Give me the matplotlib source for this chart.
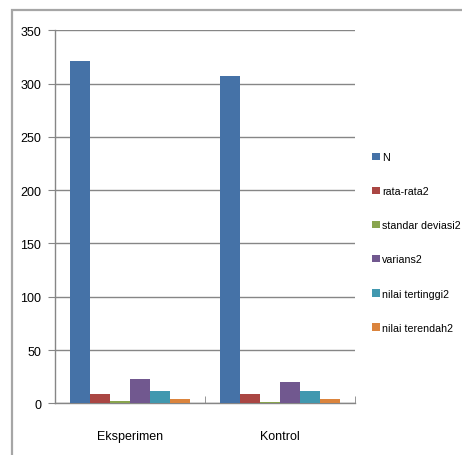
import matplotlib
matplotlib.use("Agg")
import matplotlib.pyplot as plt
from matplotlib.patches import Rectangle, Patch
import numpy as np

plt.rcParams['font.family'] = ['Liberation Sans Narrow', 'Liberation Sans', 'DejaVu Sans']

groups = ["Eksperimen", "Kontrol"]
series = ["N", "rata-rata2", "standar deviasi2", "varians2", "nilai tertinggi2", "nilai terendah2"]
eksperimen = [321, 9, 2, 23, 12, 4]
kontrol = [307, 8.5, 1.5, 20, 12, 4]
colors = ["#4572A7", "#AA4643", "#89A54E", "#71588F", "#4198AF", "#DB843D"]
yticks = [0, 50, 100, 150, 200, 250, 300, 350]

values = np.array([eksperimen, kontrol])

W, H = 462, 456
fig = plt.figure(figsize=(W / 100, H / 100), dpi=100)

# chart area border (left and top edges visible)
fig.patches.append(Rectangle((12 / W, -0.05), 1.2, 1 - 11 / H + 0.05,
                             transform=fig.transFigure, fill=False,
                             edgecolor="#A6A6A6", linewidth=1.6))

ax = fig.add_axes([55 / W, 1 - 404.3 / H, 300 / W, 373 / H])

n = len(series)
bw = 0.8 / n
x = np.arange(len(groups))
for i, name in enumerate(series):
    ax.bar(x - 0.4 + bw * (i + 0.5), values[:, i], width=bw,
           color=colors[i], label=name, zorder=3)

ax.set_xlim(-0.5, len(groups) - 0.5)
ax.set_ylim(0, 350)
ax.set_yticks(yticks)
ax.set_xticks(x)
ax.set_xticklabels(groups, fontsize=9)
ax.tick_params(axis='x', length=0, pad=19)
ax.set_xticks([-0.5, 0.5, 1.5], minor=True)
ax.tick_params(axis='x', which='minor', length=5, color="#868686", direction='in')
ax.tick_params(axis='y', length=5, color="#868686", labelsize=9, pad=5)
ax.grid(axis='y', color="#868686", linewidth=1.0, zorder=0)
for s in ["top", "right"]:
    ax.spines[s].set_visible(False)
for s in ["left", "bottom"]:
    ax.spines[s].set_color("#868686")
    ax.spines[s].set_linewidth(1.0)

handles = [Patch(facecolor=c, edgecolor='none') for c in colors]
fig.legend(handles, series, loc="upper left",
           bbox_to_anchor=(368 / W, 1 - 149 / H), frameon=False,
           fontsize=7.7, handlelength=0.7, handleheight=0.7,
           handletextpad=0.25, labelspacing=2.25, borderaxespad=0)

fig.savefig("out.png", dpi=100)
